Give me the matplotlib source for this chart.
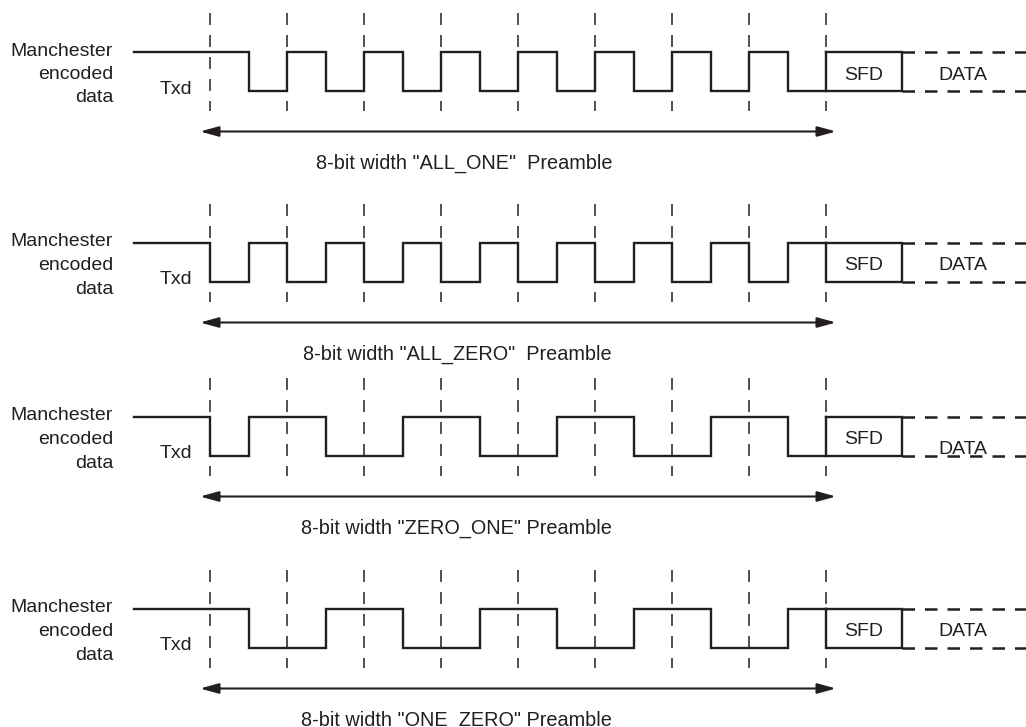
import matplotlib
matplotlib.use("Agg")
import matplotlib.pyplot as plt

plt.rcParams['font.family'] = ['Liberation Sans', 'DejaVu Sans']

# ---- data ----
preamble_names = ["ALL_ONE", "ALL_ZERO", "ZERO_ONE", "ONE_ZERO"]
preamble_bits = {
    "ALL_ONE":  [1, 1, 1, 1, 1, 1, 1, 1],
    "ALL_ZERO": [0, 0, 0, 0, 0, 0, 0, 0],
    "ZERO_ONE": [0, 1, 0, 1, 0, 1, 0, 1],
    "ONE_ZERO": [1, 0, 1, 0, 1, 0, 1, 0],
}
preamble_labels = [
    '8-bit width "ALL_ONE"  Preamble',
    '8-bit width "ALL_ZERO"  Preamble',
    '8-bit width "ZERO_ONE" Preamble',
    '8-bit width "ONE_ZERO" Preamble',
]
signal_label = ["Manchester", "encoded", "data"]
line_name = "Txd"
sfd_label = "SFD"
data_label = "DATA"

# ---- layout (pixel coordinates) ----
W, H = 1026, 727
C = '#231f20'
high_y = [52, 243, 417, 609]
amp = 38.5
x_start = 134
x0 = 210          # first bit boundary
bit_w = 77
sfd_w = 76
data_end = 1026
data_text_dy = [23, 23, 32, 23]

fig = plt.figure(figsize=(W / 100, H / 100), dpi=100)
ax = fig.add_axes([0, 0, 1, 1])
ax.set_xlim(0, W)
ax.set_ylim(H, 0)
ax.axis('off')

for p, name in enumerate(preamble_names):
    hy = high_y[p]
    ly = hy + amp
    bits = preamble_bits[name]
    nb = len(bits)
    x_end = x0 + nb * bit_w

    # dashed bit boundaries
    for k in range(nb + 1):
        xb = x0 + k * bit_w
        ax.plot([xb, xb], [hy - 39, ly + 20], color=C, lw=1.1,
                linestyle=(0, (7.8, 6.6)), solid_capstyle='butt',
                dash_capstyle='butt', zorder=1)

    # waveform
    xs = [x_start]
    ys = [hy]
    for k, b in enumerate(bits):
        xa = x0 + k * bit_w
        xm = xa + bit_w / 2
        first, second = (hy, ly) if b == 1 else (ly, hy)
        xs += [xa, xa, xm, xm]
        ys += [ys[-1], first, first, second]
    xs.append(x_end)
    ys.append(ys[-1])
    ax.plot(xs, ys, color=C, lw=1.7, solid_joinstyle='miter', zorder=3)

    # SFD box
    ax.plot([x_end, x_end, x_end + sfd_w, x_end + sfd_w, x_end],
            [hy, ly, ly, hy, hy], color=C, lw=1.7,
            solid_joinstyle='miter', zorder=3)
    ax.text(x_end + sfd_w / 2, hy + 23, sfd_label, fontsize=14,
            color=C, ha='center', va='center')

    # DATA dashed rails
    for yy in (hy, ly):
        ax.plot([x_end + sfd_w, data_end], [yy, yy], color=C, lw=1.8,
                linestyle=(0, (5, 4)), zorder=3)
    ax.text(963, hy + data_text_dy[p], data_label, fontsize=14,
            color=C, ha='center', va='center')

    # left labels
    for i, t in enumerate(signal_label):
        ax.text(113, hy - 1 + i * 23.5, t, fontsize=14, color=C,
                ha='right', va='center')
    ax.text(160, hy + 37, line_name, fontsize=14, color=C,
            ha='left', va='center')

    # double arrow
    ay = ly + 41
    ax.annotate('', xy=(200, ay), xytext=(836, ay),
                arrowprops=dict(arrowstyle='<|-|>,head_length=0.8,head_width=0.22',
                                color=C, lw=1.5, shrinkA=0, shrinkB=0,
                                mutation_scale=14))
    ax.text(612, ay + 32, preamble_labels[p], fontsize=14.3, color=C,
            ha='right', va='center')

fig.savefig('out.png', dpi=100)
